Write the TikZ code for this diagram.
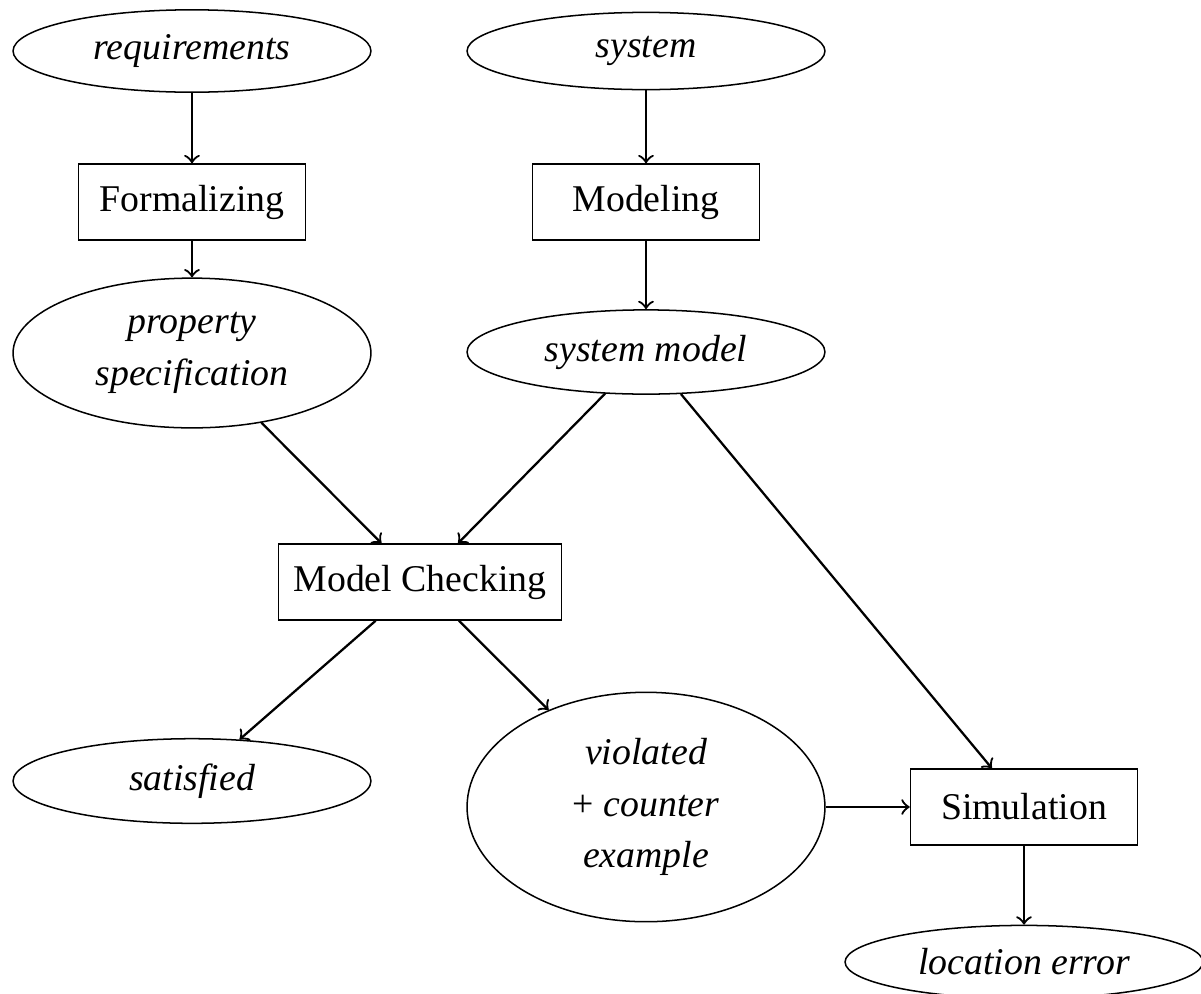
\documentclass[tikz,border=0pt]{standalone}
\usepackage{fontspec}
\setmainfont{Liberation Serif}
\usetikzlibrary{shapes.geometric}

\tikzset{
  datum/.style={ellipse, draw, line width=0.4pt, minimum width=94.7pt,
    font=\fontsize{10pt}{13.6pt}\selectfont\itshape, align=center, inner sep=3.33pt},
  stepbox/.style={rectangle, draw, line width=0.4pt, minimum width=60.1pt,
    minimum height=20.1pt, inner xsep=4pt, align=center,
    font=\fontsize{10pt}{13.6pt}\selectfont},
  flow/.style={->, line width=0.6pt},
}

\begin{document}
\begin{tikzpicture}[x=0.2646pt, y=-0.2646pt]
  \useasboundingbox (0,0) rectangle (1201,993);
  \clip (0,0) rectangle (1201,993);

  % inputs
  \node[datum] (req) at (192,51) {requirements};
  \node[datum] (sys) at (646,51) {system};

  % preparation steps
  \node[stepbox] (form) at (192,202) {Formalizing};
  \node[stepbox] (modl) at (646,202) {Modeling};

  % artefacts
  \node[datum] (prop) at (192,353) {property\\specification};
  \node[datum] (sysm) at (646,352) {system model};

  % verification
  \node[stepbox] (mc) at (420,582) {Model Checking};

  % outcomes
  \node[datum] (sat) at (192,781) {satisfied};
  \node[datum] (viol) at (646,807) {violated\\\textup{+} counter\\example};
  \node[stepbox] (sim) at (1024,807) {Simulation};
  \node[datum] (loc) at (1024,962) {location error};

  % connectors
  \draw[flow] (req) -- (form);
  \draw[flow] (form) -- (prop);
  \draw[flow] (sys) -- (modl);
  \draw[flow] (modl) -- (sysm);
  \draw[flow] (prop) -- (mc);
  \draw[flow] (sysm) -- (mc);
  \draw[flow] (sysm) -- (sim);
  \draw[flow] (mc) -- (sat);
  \draw[flow] (mc) -- (viol);
  \draw[flow] (viol) -- (sim);
  \draw[flow] (sim) -- (loc);
\end{tikzpicture}
\end{document}
